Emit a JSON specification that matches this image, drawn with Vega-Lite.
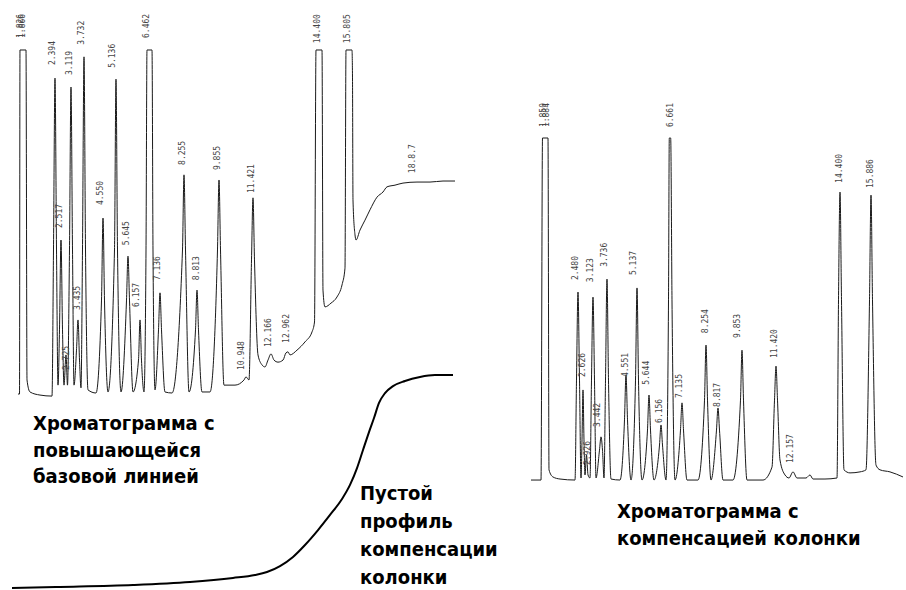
{
  "$schema": "https://vega.github.io/schema/vega-lite/v6.json",
  "width": 906,
  "height": 590,
  "padding": 0,
  "autosize": {"type": "none"},
  "background": "white",
  "config": {"view": {"stroke": null}},
  "datasets": {
    "left": [
      {"t":0.372,"r":-0.3},{"t":0.442,"r":-0.3},{"t":0.465,"r":100},{"t":0.744,"r":100},{"t":0.791,"r":3.8},{"t":0.930,"r":0.3},{"t":1.395,"r":-0.6},{"t":1.953,"r":-0.9},
      {"t":2.023,"r":41.7},{"t":2.093,"r":91.8},{"t":2.163,"r":41.7},{"t":2.233,"r":2.3},{"t":2.302,"r":18.4},{"t":2.372,"r":44.6},{"t":2.442,"r":18.4},{"t":2.512,"r":2.3},
      {"t":2.605,"r":11.1},{"t":2.674,"r":2.3},{"t":2.767,"r":41.7},{"t":2.837,"r":89.2},{"t":2.907,"r":41.7},{"t":2.977,"r":2.3},{"t":3.093,"r":12.5},{"t":3.163,"r":21.3},
      {"t":3.233,"r":9.6},{"t":3.302,"r":1.5},{"t":3.372,"r":41.7},{"t":3.442,"r":98.0},{"t":3.512,"r":41.7},{"t":3.628,"r":0.9},{"t":4.0,"r":0},{"t":4.256,"r":27.1},
      {"t":4.326,"r":51.0},{"t":4.395,"r":27.1},{"t":4.558,"r":0.3},{"t":4.860,"r":41.7},{"t":4.930,"r":91.5},{"t":5.0,"r":41.7},{"t":5.163,"r":0.3},{"t":5.419,"r":27.1},
      {"t":5.488,"r":39.9},{"t":5.558,"r":27.1},{"t":5.721,"r":0.3},{"t":5.977,"r":9.6},{"t":6.047,"r":21.3},{"t":6.116,"r":9.6},{"t":6.233,"r":0.3},{"t":6.326,"r":41.7},
      {"t":6.372,"r":100},{"t":6.605,"r":100},{"t":6.651,"r":41.7},{"t":6.744,"r":0.9},{"t":6.907,"r":18.4},{"t":6.977,"r":29.2},{"t":7.047,"r":18.4},{"t":7.209,"r":0.3},
      {"t":7.535,"r":0},{"t":8.023,"r":41.7},{"t":8.093,"r":63.6},{"t":8.163,"r":41.7},{"t":8.326,"r":0.3},{"t":8.628,"r":18.4},{"t":8.698,"r":30.0},{"t":8.767,"r":18.4},
      {"t":8.930,"r":0.3},{"t":9.302,"r":0.3},{"t":9.651,"r":41.7},{"t":9.721,"r":62.1},{"t":9.791,"r":41.7},{"t":9.953,"r":2.3},{"t":10.465,"r":2.3},{"t":10.884,"r":3.8},
      {"t":10.977,"r":4.7},{"t":11.116,"r":3.8},{"t":11.233,"r":38.8},{"t":11.302,"r":56.9},{"t":11.372,"r":38.8},{"t":11.535,"r":11.1},{"t":11.721,"r":8.2},{"t":11.860,"r":7.6},
      {"t":12.0,"r":9.6},{"t":12.140,"r":11.4},{"t":12.279,"r":9.6},{"t":12.465,"r":9.0},{"t":12.698,"r":9.6},{"t":12.837,"r":11.7},{"t":12.930,"r":12.0},{"t":13.023,"r":11.1},
      {"t":13.349,"r":12.5},{"t":13.721,"r":14.9},{"t":14.047,"r":17.8},{"t":14.163,"r":20.7},{"t":14.233,"r":100},{"t":14.512,"r":100},{"t":14.558,"r":30.0},{"t":14.651,"r":25.1},
      {"t":14.930,"r":26.2},{"t":15.209,"r":28.0},{"t":15.442,"r":31.5},{"t":15.581,"r":36.4},{"t":15.628,"r":100},{"t":15.907,"r":100},{"t":15.930,"r":92.1},{"t":15.953,"r":56.3},
      {"t":16.047,"r":46.1},{"t":16.093,"r":44.6},{"t":16.279,"r":47.5},{"t":16.512,"r":50.4},{"t":16.744,"r":53.4},{"t":17.070,"r":57.1},{"t":17.349,"r":58.6},{"t":17.535,"r":60.1},
      {"t":17.907,"r":60.6},{"t":18.279,"r":61.2},{"t":18.930,"r":61.5},{"t":19.535,"r":61.5},{"t":20.140,"r":61.8},{"t":20.698,"r":61.8}
    ],
    "leftLabels": [
      {"t":0.512,"r":103.5,"label":"1.826"},{"t":0.605,"r":103.5,"label":"1.866"},{"t":2.0,"r":95.6,"label":"2.394"},{"t":2.791,"r":92.7,"label":"3.119"},
      {"t":3.349,"r":101.5,"label":"3.732"},{"t":4.791,"r":94.8,"label":"5.136"},{"t":6.372,"r":103.5,"label":"6.462"},{"t":8.047,"r":66.5,"label":"8.255"},
      {"t":9.674,"r":65.0,"label":"9.855"},{"t":4.233,"r":54.8,"label":"4.550"},{"t":11.256,"r":58.3,"label":"11.421"},{"t":14.326,"r":102.0,"label":"14.400"},
      {"t":15.721,"r":102.0,"label":"15.805"},{"t":18.744,"r":64.1,"label":"18.8.7"},{"t":2.326,"r":48.1,"label":"2.517"},{"t":2.651,"r":6.7,"label":"2.725"},
      {"t":3.163,"r":24.2,"label":"3.435"},{"t":5.442,"r":43.1,"label":"5.645"},{"t":5.907,"r":25.1,"label":"6.157"},{"t":6.884,"r":32.9,"label":"7.136"},
      {"t":8.698,"r":32.9,"label":"8.813"},{"t":10.791,"r":6.7,"label":"10.948"},{"t":12.047,"r":13.4,"label":"12.166"},{"t":12.884,"r":14.6,"label":"12.962"}
    ],
    "right": [
      {"t":0.275,"r":-0.6},{"t":0.734,"r":-0.6},{"t":0.803,"r":100},{"t":1.055,"r":100},{"t":1.101,"r":2.4},{"t":1.284,"r":0.3},{"t":1.606,"r":-0.3},{"t":2.294,"r":-0.6},
      {"t":2.362,"r":28.8},{"t":2.431,"r":54.7},{"t":2.5,"r":28.8},{"t":2.569,"r":0},{"t":2.615,"r":11.2},{"t":2.661,"r":25.9},{"t":2.706,"r":11.2},{"t":2.752,"r":0.9},
      {"t":2.821,"r":6.8},{"t":2.890,"r":0.9},{"t":2.982,"r":0},{"t":3.050,"r":28.8},{"t":3.119,"r":53.2},{"t":3.188,"r":28.8},{"t":3.257,"r":0},{"t":3.417,"r":8.2},
      {"t":3.486,"r":12.1},{"t":3.555,"r":8.2},{"t":3.624,"r":0},{"t":3.693,"r":28.8},{"t":3.761,"r":58.5},{"t":3.830,"r":28.8},{"t":3.945,"r":-0.3},{"t":4.358,"r":-0.6},
      {"t":4.564,"r":17.1},{"t":4.633,"r":30.3},{"t":4.702,"r":17.1},{"t":4.862,"r":-0.6},{"t":5.069,"r":28.8},{"t":5.138,"r":55.9},{"t":5.206,"r":28.8},{"t":5.367,"r":-0.6},
      {"t":5.619,"r":14.1},{"t":5.688,"r":24.4},{"t":5.757,"r":14.1},{"t":5.917,"r":-0.6},{"t":6.170,"r":9.7},{"t":6.239,"r":15.6},{"t":6.307,"r":9.7},{"t":6.468,"r":-0.6},
      {"t":6.583,"r":52.4},{"t":6.619,"r":100},{"t":6.683,"r":100},{"t":6.743,"r":52.4},{"t":6.881,"r":-0.6},{"t":7.133,"r":14.1},{"t":7.202,"r":22.1},{"t":7.271,"r":14.1},
      {"t":7.431,"r":-0.6},{"t":7.936,"r":-0.6},{"t":8.234,"r":22.9},{"t":8.303,"r":39.1},{"t":8.372,"r":22.9},{"t":8.532,"r":-0.6},{"t":8.784,"r":14.1},{"t":8.853,"r":20.6},
      {"t":8.922,"r":14.1},{"t":9.083,"r":-0.6},{"t":9.541,"r":-0.6},{"t":9.885,"r":22.9},{"t":9.954,"r":37.6},{"t":10.023,"r":22.9},{"t":10.183,"r":-0.6},{"t":10.917,"r":-0.6},
      {"t":11.330,"r":3.2},{"t":11.445,"r":22.9},{"t":11.514,"r":32.9},{"t":11.583,"r":22.9},{"t":11.697,"r":5.3},{"t":11.927,"r":0.9},{"t":12.110,"r":0},{"t":12.294,"r":1.8},
      {"t":12.477,"r":0},{"t":12.890,"r":0},{"t":13.073,"r":0.9},{"t":13.211,"r":-0.3},{"t":13.761,"r":-0.3},{"t":14.312,"r":0},{"t":14.381,"r":52.4},{"t":14.450,"r":84.1},
      {"t":14.518,"r":52.4},{"t":14.633,"r":2.4},{"t":14.908,"r":1.5},{"t":15.367,"r":1.8},{"t":15.642,"r":2.4},{"t":15.803,"r":52.4},{"t":15.872,"r":83.2},{"t":15.940,"r":52.4},
      {"t":16.101,"r":3.8},{"t":16.284,"r":2.4},{"t":16.743,"r":1.8},{"t":17.339,"r":0.3}
    ],
    "rightLabels": [
      {"t":0.872,"r":103.2,"label":"1.850"},{"t":1.009,"r":103.2,"label":"1.884"},{"t":6.697,"r":103.2,"label":"6.661"},{"t":2.339,"r":58.2,"label":"2.480"},
      {"t":3.028,"r":57.6,"label":"3.123"},{"t":3.670,"r":62.1,"label":"3.736"},{"t":5.0,"r":59.7,"label":"5.137"},{"t":2.661,"r":29.7,"label":"2.626"},
      {"t":2.890,"r":3.8,"label":"2.926"},{"t":3.349,"r":15.0,"label":"3.442"},{"t":4.633,"r":29.7,"label":"4.551"},{"t":5.596,"r":27.4,"label":"5.644"},
      {"t":6.193,"r":16.2,"label":"6.156"},{"t":7.110,"r":23.5,"label":"7.135"},{"t":8.303,"r":42.6,"label":"8.254"},{"t":8.853,"r":20.9,"label":"8.817"},
      {"t":9.771,"r":41.2,"label":"9.853"},{"t":11.468,"r":35.3,"label":"11.420"},{"t":12.202,"r":4.4,"label":"12.157"},{"t":14.450,"r":86.8,"label":"14.400"},
      {"t":15.872,"r":85.3,"label":"15.886"}
    ],
    "blank": [
      {"t":0.093,"r":0},{"t":2.326,"r":0.5},{"t":5.721,"r":1.4},{"t":8.372,"r":2.8},{"t":10.372,"r":4.7},{"t":11.395,"r":6.1},{"t":11.953,"r":7.5},{"t":12.558,"r":10.3},
      {"t":13.163,"r":14.6},{"t":13.721,"r":20.2},{"t":14.326,"r":27.2},{"t":14.884,"r":34.3},{"t":15.442,"r":41.8},{"t":15.814,"r":48.4},{"t":16.140,"r":56.3},{"t":16.419,"r":64.8},
      {"t":16.698,"r":73.2},{"t":16.930,"r":79.8},{"t":17.163,"r":86.9},{"t":17.442,"r":91.5},{"t":17.814,"r":94.8},{"t":18.372,"r":97.2},{"t":19.070,"r":99.1},{"t":19.767,"r":100},
      {"t":20.605,"r":100}
    ]
  },
  "layer": [
    {
      "encoding": {
        "x": {"field": "t", "type": "quantitative", "axis": null, "scale": {"domain": [-0.4651, 41.6744], "nice": false, "zero": false}},
        "y": {"field": "r", "type": "quantitative", "axis": null, "scale": {"domain": [-57.434, 114.577], "nice": false, "zero": false}}
      },
      "layer": [
        {"data": {"name": "left"}, "mark": {"type": "line", "interpolate": "monotone", "stroke": "#1a1a1a", "strokeWidth": 1, "clip": false}},
        {"data": {"name": "leftLabels"}, "mark": {"type": "text", "angle": 270, "align": "left", "baseline": "middle", "font": "DejaVu Sans Mono", "fontSize": 8, "fill": "#444"}, "encoding": {"text": {"field": "label"}}},
        {"data": {"values": [{"t": 1.07, "r": -10.8, "caption": "Хроматограмма с\nповышающейся\nбазовой линией"}]},
         "mark": {"type": "text", "align": "left", "baseline": "alphabetic", "lineBreak": "\n", "lineHeight": 26.5, "font": "DejaVu Sans Condensed, Roboto, sans-serif", "fontWeight": "bold", "fontSize": 20, "fill": "#000"},
         "encoding": {"text": {"field": "caption"}}}
      ]
    },
    {
      "encoding": {
        "x": {"field": "t", "type": "quantitative", "axis": null, "scale": {"domain": [-0.4651, 41.6744], "nice": false, "zero": false}},
        "y": {"field": "r", "type": "quantitative", "axis": null, "scale": {"domain": [-0.939, 276.056], "nice": false, "zero": false}}
      },
      "layer": [
        {"data": {"name": "blank"}, "mark": {"type": "line", "interpolate": "monotone", "stroke": "#000", "strokeWidth": 2, "clip": false}},
        {"data": {"values": [{"t": 16.279, "r": 41.5, "caption": "Пустой\nпрофиль\nкомпенсации\nколонки"}]},
         "mark": {"type": "text", "align": "left", "baseline": "alphabetic", "lineBreak": "\n", "lineHeight": 28, "font": "DejaVu Sans Condensed, Roboto, sans-serif", "fontWeight": "bold", "fontSize": 20, "fill": "#000"},
         "encoding": {"text": {"field": "caption"}}}
      ]
    },
    {
      "encoding": {
        "x": {"field": "t", "type": "quantitative", "axis": null, "scale": {"domain": [-24.0826, 17.4771], "nice": false, "zero": false}},
        "y": {"field": "r", "type": "quantitative", "axis": null, "scale": {"domain": [-32.941, 140.588], "nice": false, "zero": false}}
      },
      "layer": [
        {"data": {"name": "right"}, "mark": {"type": "line", "interpolate": "monotone", "stroke": "#1a1a1a", "strokeWidth": 1, "clip": false}},
        {"data": {"name": "rightLabels"}, "mark": {"type": "text", "angle": 270, "align": "left", "baseline": "middle", "font": "DejaVu Sans Mono", "fontSize": 8, "fill": "#444"}, "encoding": {"text": {"field": "label"}}},
        {"data": {"values": [{"t": 4.22, "r": -11.8, "caption": "Хроматограмма с\nкомпенсацией колонки"}]},
         "mark": {"type": "text", "align": "left", "baseline": "alphabetic", "lineBreak": "\n", "lineHeight": 27, "font": "DejaVu Sans Condensed, Roboto, sans-serif", "fontWeight": "bold", "fontSize": 20, "fill": "#000"},
         "encoding": {"text": {"field": "caption"}}}
      ]
    }
  ],
  "resolve": {"scale": {"x": "independent", "y": "independent"}}
}
